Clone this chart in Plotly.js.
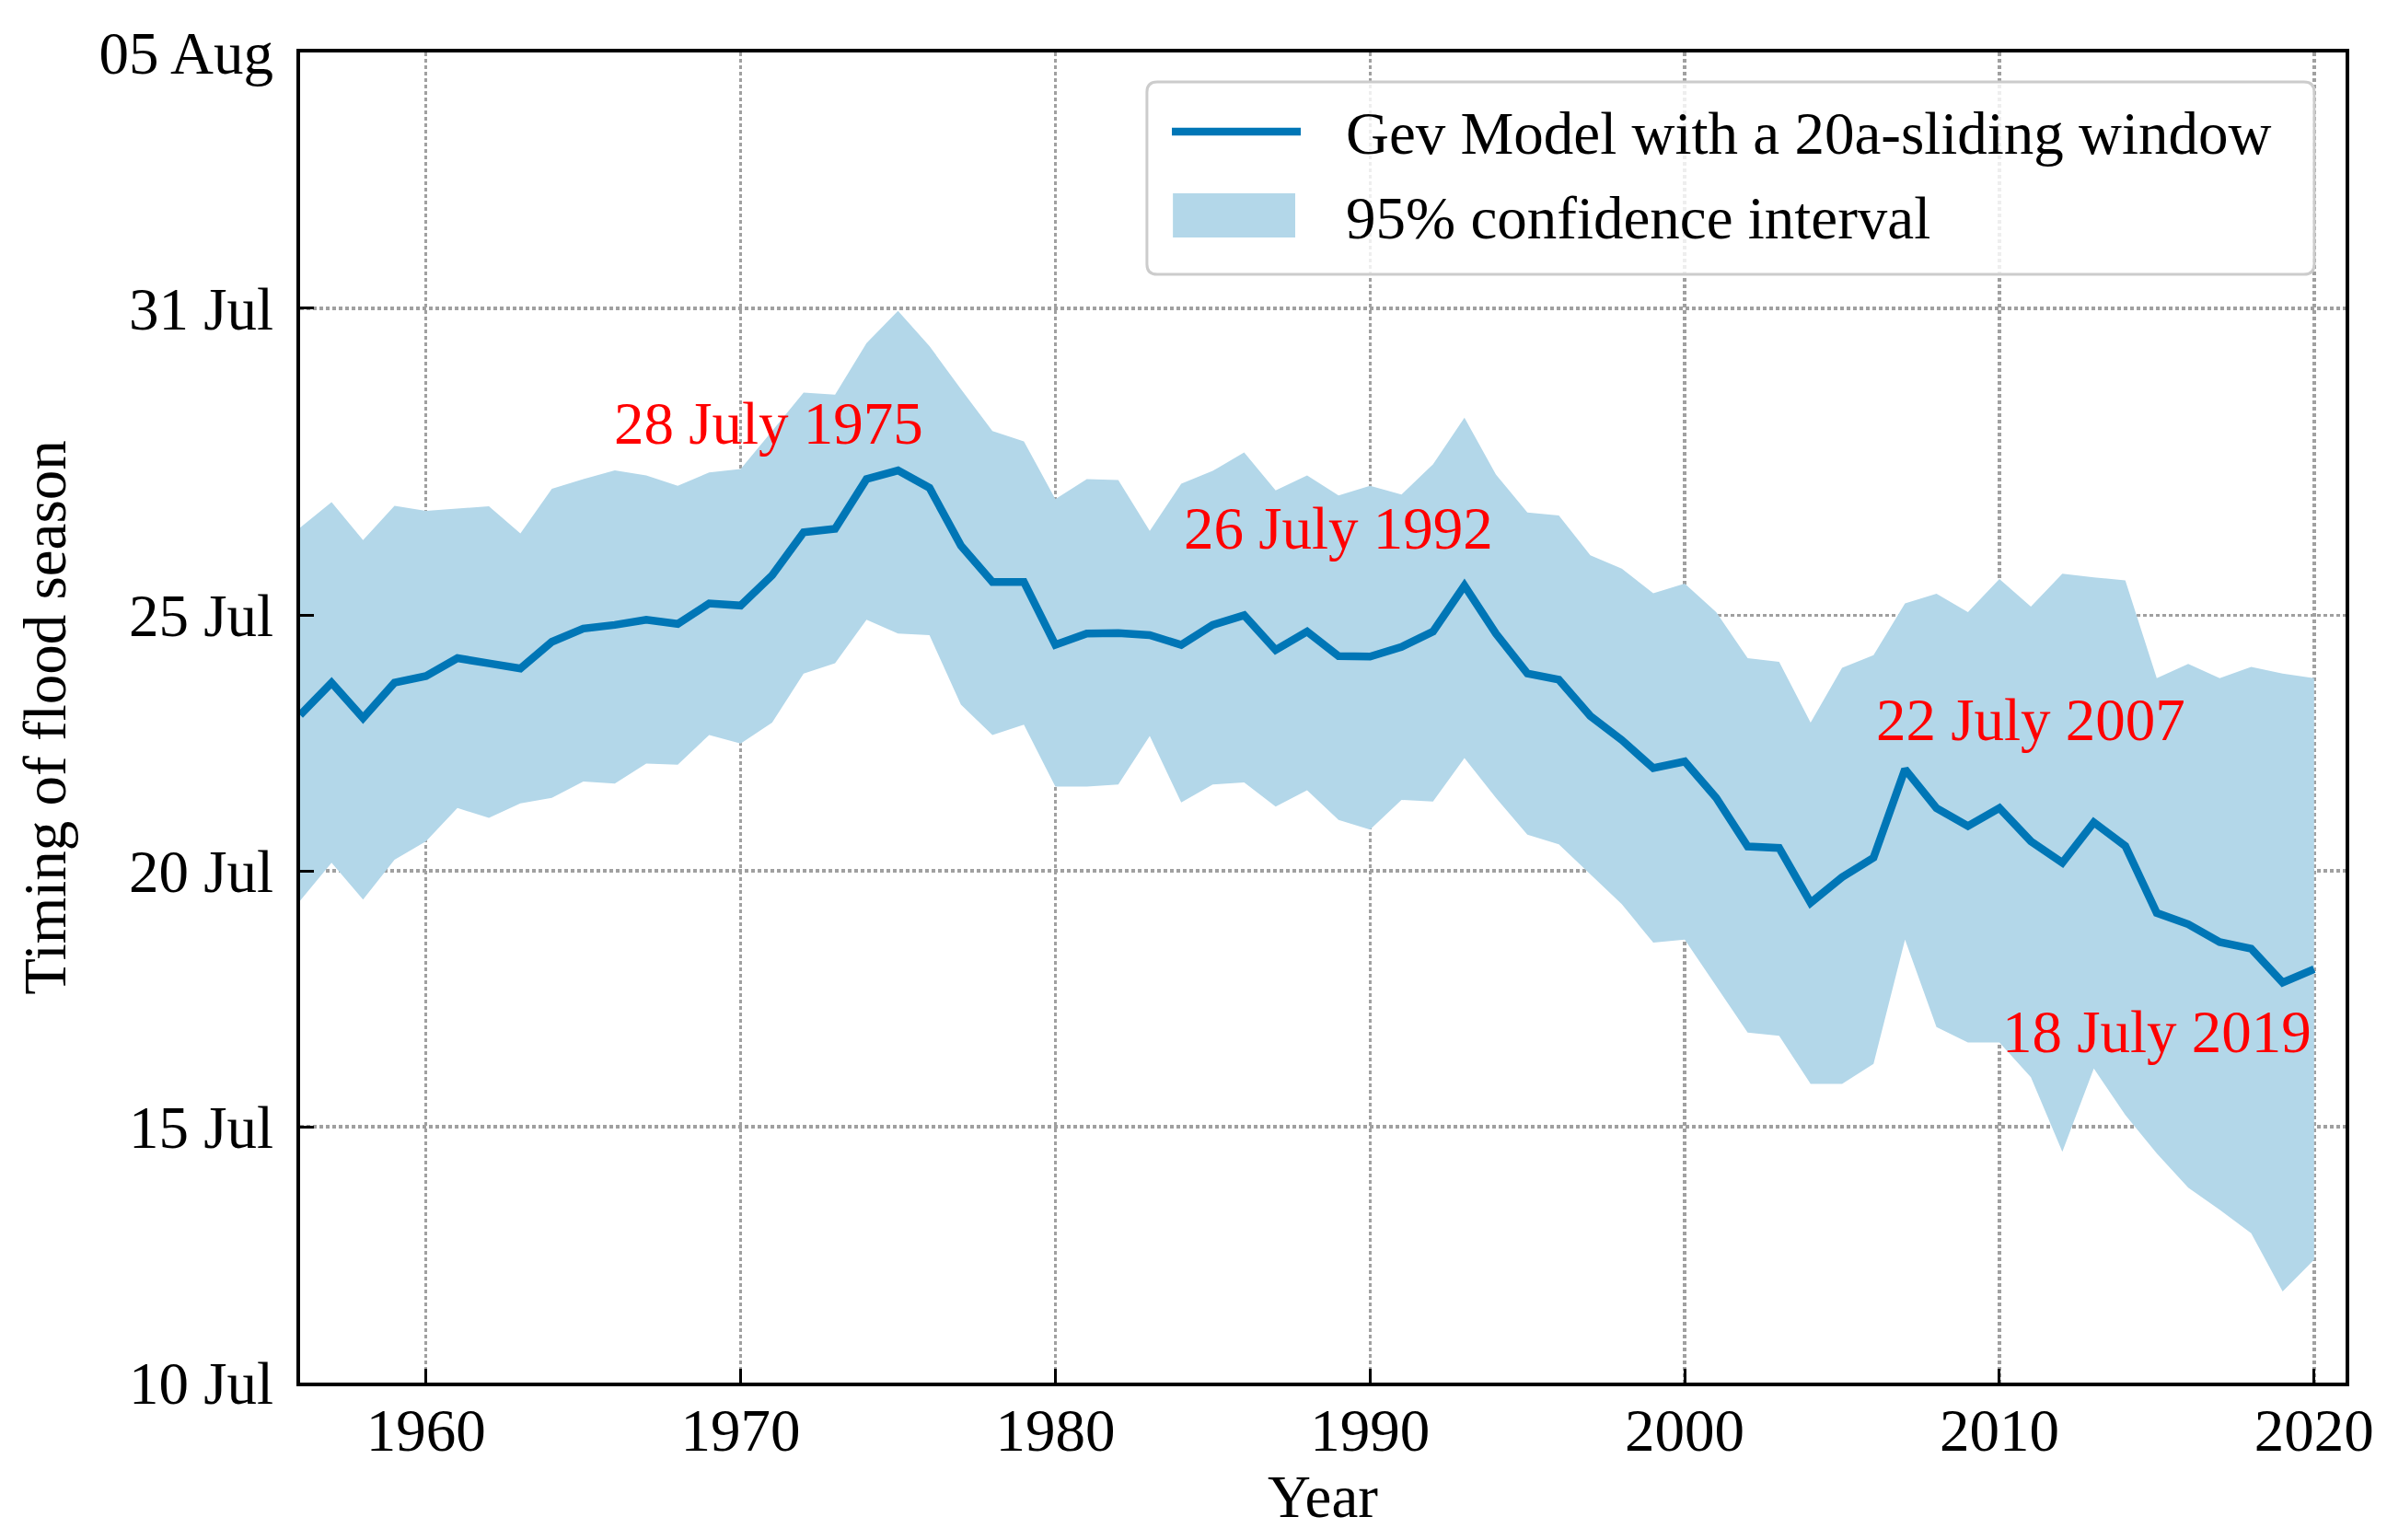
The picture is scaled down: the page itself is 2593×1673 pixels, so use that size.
<!DOCTYPE html>
<html>
<head>
<meta charset="utf-8">
<script src="https://cdn.plot.ly/plotly-3.0.1.min.js"></script>
<style>html,body{margin:0;padding:0;background:#fff;}#chart{width:2593px;height:1673px;}</style>
</head>
<body>
<div id="chart"></div>
<script>
const years = [];
for (let y = 1956; y <= 2020; y++) years.push(y);

const gevModel = [23.05,23.68,22.99,23.68,23.81,24.16,24.06,23.96,24.48,24.74,
  24.81,24.91,24.83,25.23,25.19,25.78,26.62,26.69,27.66,27.83,
  27.49,26.36,25.65,25.65,24.42,24.64,24.65,24.61,24.42,24.81,
  25.00,24.32,24.68,24.20,24.19,24.38,24.68,25.58,24.64,23.86,
  23.74,23.03,22.56,22.01,22.14,21.43,20.48,20.45,19.38,19.88,
  20.26,21.99,21.23,20.88,21.23,20.58,20.16,20.95,20.49,19.18,
  18.96,18.61,18.48,17.82,18.08];

const ciUpper = [26.71,27.21,26.47,27.14,27.04,27.08,27.13,26.60,27.47,27.66,
  27.83,27.73,27.53,27.79,27.86,28.60,29.35,29.31,30.32,30.95,
  30.26,29.42,28.60,28.40,27.27,27.66,27.64,26.65,27.57,27.82,
  28.18,27.44,27.73,27.34,27.53,27.36,27.95,28.86,27.75,27.01,
  26.95,26.17,25.91,25.43,25.62,25.06,24.16,24.09,22.90,23.97,
  24.22,25.23,25.42,25.06,25.71,25.17,25.81,25.74,25.68,23.77,
  24.05,23.77,23.99,23.86,23.77];

const ciLower = [19.42,20.16,19.44,20.22,20.58,21.23,21.04,21.32,21.43,21.75,
  21.71,22.10,22.08,22.66,22.49,22.90,23.86,24.06,24.91,24.64,
  24.61,23.25,22.66,22.86,21.65,21.65,21.69,22.64,21.34,21.69,
  21.73,21.26,21.58,21.00,20.81,21.39,21.36,22.21,21.43,20.71,
  20.52,19.94,19.35,18.60,18.66,17.75,16.84,16.78,15.84,15.84,
  16.23,18.66,16.95,16.65,16.65,15.97,14.51,16.14,15.23,14.48,
  13.81,13.38,12.92,11.78,12.40];

// y axis: day of July (05 Aug = day 36)
const yTickVals = [10, 15, 20, 25, 31, 36];
const yTickText = ['10 Jul', '15 Jul', '20 Jul', '25 Jul', '31 Jul', '05 Aug'];
const xTickVals = [1960, 1970, 1980, 1990, 2000, 2010, 2020];

const annoText = ['28 July 1975', '26 July 1992', '22 July 2007', '18 July 2019'];
const annoX = [1970.9, 1989.0, 2011.0, 2015.0];
const annoY = [28.75, 26.70, 22.95, 16.86];

const legendLabels = ['Gev Model with a 20a-sliding window', '95% confidence interval'];

const FONT = 'Liberation Serif, Times New Roman, serif';
const FS = 65;
const LINE_COLOR = '#0076b6';
const FILL_COLOR = '#b3d7e9';
const LW = 8.5;

const traces = [
  {x: years, y: ciLower, type: 'scatter', mode: 'lines', line: {width: 0, color: 'rgba(0,0,0,0)'},
   showlegend: false, hoverinfo: 'skip'},
  {x: years, y: ciUpper, type: 'scatter', mode: 'lines', line: {width: 0, color: 'rgba(0,0,0,0)'},
   fill: 'tonexty', fillcolor: FILL_COLOR, name: legendLabels[1], showlegend: false},
  {x: years, y: gevModel, type: 'scatter', mode: 'lines', line: {width: LW, color: LINE_COLOR},
   name: legendLabels[0], showlegend: false}
];

const annotations = annoText.map((t, i) => ({
  x: annoX[i], y: annoY[i], xref: 'x', yref: 'y', text: t, showarrow: false,
  xanchor: 'center', yanchor: 'middle', font: {family: FONT, size: FS, color: '#ff0000'}
}));

// manual legend (matplotlib-style frame)
const lx0 = 0.4140, lx1 = 0.9847, ly0 = 0.8332, ly1 = 0.9779, rx = 0.0050, ry = 0.0077;
const legendBox = {
  type: 'path', xref: 'paper', yref: 'paper', layer: 'above',
  path: `M${lx0+rx},${ly1} L${lx1-rx},${ly1} Q${lx1},${ly1} ${lx1},${ly1-ry} L${lx1},${ly0+ry} Q${lx1},${ly0} ${lx1-rx},${ly0} L${lx0+rx},${ly0} Q${lx0},${ly0} ${lx0},${ly0+ry} L${lx0},${ly1-ry} Q${lx0},${ly1} ${lx0+rx},${ly1} Z`,
  fillcolor: 'rgba(255,255,255,0.82)', line: {color: '#cccccc', width: 3}
};
const legendLine = {type: 'line', xref: 'paper', yref: 'paper', layer: 'above',
  x0: 0.4262, x1: 0.4892, y0: 0.9405, y1: 0.9405, line: {color: LINE_COLOR, width: LW}};
const legendPatch = {type: 'rect', xref: 'paper', yref: 'paper', layer: 'above',
  x0: 0.4267, x1: 0.4865, y0: 0.8609, y1: 0.8941, fillcolor: FILL_COLOR, line: {width: 0}};

const legendTextY = [0.9391, 0.8754];
legendLabels.forEach((t, i) => annotations.push({
  x: 0.5104, y: legendTextY[i], xref: 'paper', yref: 'paper', text: t, showarrow: false,
  xanchor: 'left', yanchor: 'middle', font: {family: FONT, size: FS, color: '#000'}
}));

const layout = {
  width: 2593, height: 1673,
  paper_bgcolor: '#ffffff', plot_bgcolor: '#ffffff',
  margin: {l: 326, r: 45, t: 57, b: 171, pad: 0},
  font: {family: FONT, size: FS, color: '#000'},
  showlegend: false,
  xaxis: {
    range: [1956, 2021], tickvals: xTickVals, ticks: 'inside', ticklen: 15, tickwidth: 3,
    tickcolor: '#000', showline: true, linecolor: '#000', linewidth: 4, mirror: true,
    showgrid: true, gridcolor: '#a0a0a0', gridwidth: 3.5, griddash: 'dot', zeroline: false,
    tickfont: {family: FONT, size: FS, color: '#000'}, ticklabelstandoff: -8,
    title: {text: 'Year', font: {family: FONT, size: FS, color: '#000'}, standoff: 10}
  },
  yaxis: {
    range: [10, 36], tickvals: yTickVals, ticktext: yTickText, ticks: 'inside', ticklen: 15, tickwidth: 3,
    tickcolor: '#000', showline: true, linecolor: '#000', linewidth: 4, mirror: true,
    showgrid: true, gridcolor: '#a0a0a0', gridwidth: 3.5, griddash: 'dot', zeroline: false,
    tickfont: {family: FONT, size: FS, color: '#000'}, ticklabelstandoff: 12,
    title: {text: 'Timing of flood season', font: {family: FONT, size: FS, color: '#000'}, standoff: 16}
  },
  shapes: [legendBox, legendLine, legendPatch],
  annotations: annotations
};

Plotly.newPlot('chart', traces, layout, {displayModeBar: false, staticPlot: true});
</script>
</body>
</html>
